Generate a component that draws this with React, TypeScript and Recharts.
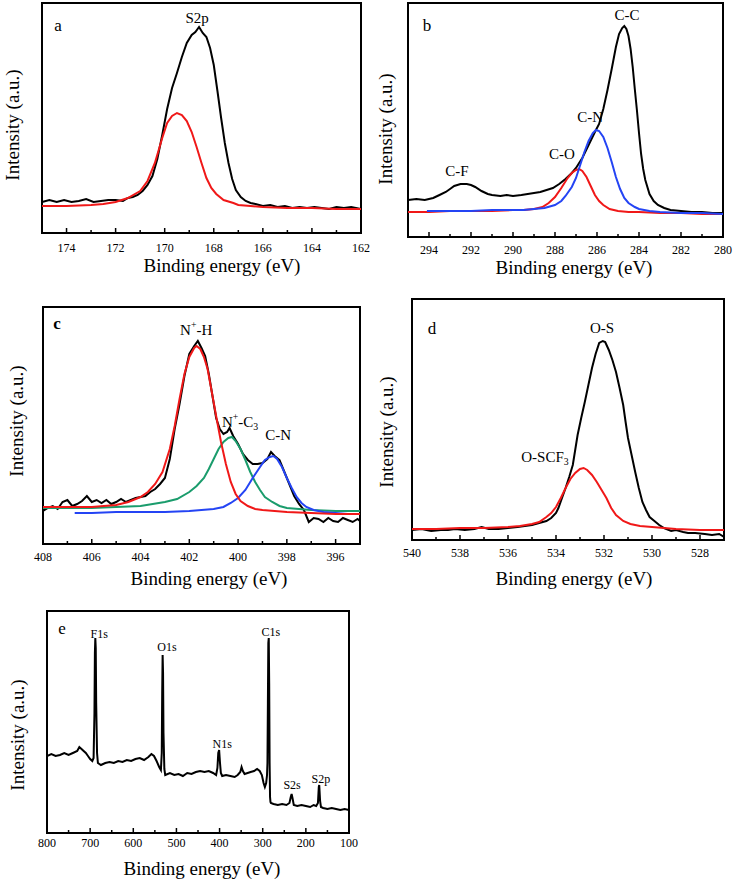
import { LineChart, Line, XAxis, YAxis, ReferenceArea, ReferenceDot } from "recharts";

const FONT = "'Liberation Serif', 'Times New Roman', serif";

// [binding energy (eV), intensity]
const s2pMeasured = [
  [175, 31], [174.7, 33], [174.4, 31], [174.1, 33], [173.8, 31], [173.5, 32], [173.2, 34], [172.9, 31],
  [172.6, 32], [172.3, 33], [172, 33], [171.7, 32], [171.5, 35], [171.3, 36], [171.1, 38], [170.9, 42],
  [170.7, 48], [170.5, 57], [170.3, 74], [170.1, 98], [169.9, 124], [169.7, 145], [169.5, 160],
  [169.3, 176], [169.1, 190], [168.9, 198], [168.75, 201], [168.6, 206], [168.45, 200], [168.3, 196],
  [168.15, 185], [168, 168], [167.85, 142], [167.7, 115], [167.55, 90], [167.4, 70], [167.25, 54],
  [167.1, 43], [166.9, 36], [166.7, 32], [166.5, 30], [166.3, 29], [166, 27], [165.7, 28], [165.4, 26],
  [165.1, 27], [164.8, 25], [164.5, 26], [164.2, 25], [163.9, 26], [163.6, 25], [163.3, 24], [163, 26],
  [162.7, 25], [162.4, 26], [162, 24],
];
const s2pFit = [
  [175, 27], [174, 27], [173, 28], [172.5, 29], [172, 31], [171.5, 35], [171, 42], [170.7, 52],
  [170.4, 70], [170.1, 95], [169.9, 110], [169.7, 117], [169.5, 120], [169.3, 118], [169.1, 112],
  [168.9, 101], [168.7, 86], [168.5, 70], [168.3, 55], [168.1, 45], [167.9, 39], [167.6, 33],
  [167.2, 30], [167, 28], [166.5, 27], [166, 26], [165, 25], [164, 25], [163, 24], [162, 24],
];

const c1sMeasured = [
  [295, 37], [294.6, 38], [294.2, 37], [293.8, 39], [293.5, 42], [293.2, 45], [293, 48], [292.8, 51],
  [292.5, 53], [292.2, 53], [292, 52], [291.8, 50], [291.5, 46], [291.2, 43], [291, 42], [290.6, 41],
  [290.3, 42], [290, 41], [289.6, 42], [289.3, 43], [289, 44], [288.7, 45], [288.4, 47], [288.1, 49],
  [287.8, 53], [287.5, 58], [287.2, 64], [287, 69], [286.7, 79], [286.4, 92], [286.1, 105],
  [285.9, 113], [285.7, 128], [285.5, 147], [285.3, 168], [285.1, 190], [284.95, 203], [284.8, 209],
  [284.7, 211], [284.6, 208], [284.5, 201], [284.4, 188], [284.3, 170], [284.2, 148], [284.1, 127],
  [284, 104], [283.9, 83], [283.8, 68], [283.7, 57], [283.5, 43], [283.3, 36], [283.1, 32],
  [282.8, 29], [282.5, 27], [282, 26], [281.5, 25], [281, 25], [280.5, 24], [280, 24],
];
const c1sCO = [
  [295, 25], [294, 25], [293, 26], [292, 26], [291, 26], [290, 27], [289.5, 27], [289, 28], [288.6, 30],
  [288.3, 34], [288, 40], [287.7, 49], [287.4, 59], [287.2, 64], [287, 67], [286.85, 68], [286.7, 66],
  [286.5, 60], [286.3, 51], [286.1, 42], [285.9, 36], [285.7, 32], [285.4, 28], [285, 26], [284.5, 25],
  [284, 25], [283, 24], [282, 24], [281, 23], [280, 23],
];
const c1sCN = [
  [294.1, 26], [293, 26], [292, 26], [291, 27], [290, 27], [289.5, 27], [289, 28], [288.5, 29],
  [288, 32], [287.7, 36], [287.5, 41], [287.2, 50], [287, 59], [286.8, 72], [286.6, 85], [286.4, 96],
  [286.2, 104], [286.05, 107], [285.9, 106], [285.7, 100], [285.5, 89], [285.3, 75], [285.1, 60],
  [284.9, 48], [284.7, 39], [284.5, 34], [284.2, 30], [284, 28], [283.5, 26], [283, 25], [282, 24],
  [281, 24], [280, 23],
];

const n1sMeasured = [
  [408, 33], [407.8, 36], [407.6, 38], [407.4, 35], [407.2, 42], [407, 44], [406.8, 38], [406.6, 40],
  [406.4, 43], [406.2, 48], [406, 42], [405.8, 44], [405.6, 41], [405.4, 44], [405.2, 40], [405, 42],
  [404.8, 45], [404.6, 42], [404.4, 44], [404.2, 46], [404, 47], [403.8, 48], [403.6, 52], [403.4, 55],
  [403.2, 60], [403, 66], [402.8, 85], [402.6, 115], [402.4, 140], [402.2, 168], [402, 190],
  [401.8, 198], [401.65, 203], [401.5, 196], [401.35, 188], [401.2, 170], [401.05, 148], [400.9, 126],
  [400.75, 115], [400.6, 110], [400.45, 112], [400.35, 116], [400.2, 108], [400, 100], [399.8, 90],
  [399.6, 84], [399.4, 80], [399.2, 80], [399, 81], [398.8, 85], [398.65, 92], [398.5, 88],
  [398.3, 84], [398.1, 72], [397.9, 60], [397.7, 48], [397.5, 40], [397.3, 34], [397.1, 22],
  [396.9, 26], [396.7, 25], [396.5, 22], [396.3, 26], [396.1, 23], [395.9, 22], [395.7, 26],
  [395.5, 24], [395.3, 22], [395.1, 25], [395, 23],
];
const n1sNH = [
  [408, 37], [407, 37], [406, 37], [405, 39], [404.5, 42], [404, 47], [403.7, 52], [403.4, 60],
  [403.1, 72], [402.8, 95], [402.6, 118], [402.4, 145], [402.2, 170], [402, 187], [401.8, 196],
  [401.7, 198], [401.55, 195], [401.4, 187], [401.25, 175], [401.1, 155], [400.9, 128], [400.7, 102],
  [400.5, 80], [400.3, 62], [400.1, 50], [399.9, 43], [399.6, 38], [399.3, 35], [399, 34], [398.5, 33],
  [398, 32], [397, 31], [396, 30], [395, 30],
];
const n1sNC3 = [
  [408, 36], [407, 36], [406, 36], [405, 37], [404, 38], [403.5, 40], [403, 42], [402.5, 45], [402, 52],
  [401.7, 58], [401.4, 66], [401.2, 75], [401, 85], [400.8, 95], [400.6, 102], [400.4, 106],
  [400.25, 107], [400.1, 103], [399.9, 95], [399.7, 84], [399.5, 72], [399.3, 62], [399.1, 54],
  [398.9, 47], [398.6, 42], [398.3, 38], [398, 36], [397.5, 35], [397, 34], [396, 33], [395, 33],
];
const n1sCN = [
  [406.7, 31], [406, 31], [405, 32], [404, 32], [403, 32], [402, 33], [401.5, 34], [401, 35],
  [400.6, 37], [400.3, 41], [400, 46], [399.7, 54], [399.4, 66], [399.1, 77], [398.9, 84], [398.7, 87],
  [398.55, 88], [398.4, 85], [398.2, 77], [398, 66], [397.8, 56], [397.6, 47], [397.4, 41],
  [397.2, 37], [396.9, 34], [396.5, 32], [396, 31], [395.5, 30], [395, 30],
];

const o1sMeasured = [
  [540, 10], [539.6, 11], [539.2, 9], [538.8, 10], [538.5, 10], [538.2, 11], [537.8, 10], [537.4, 11],
  [537.1, 13], [536.8, 11], [536.4, 11], [536, 12], [535.6, 13], [535.3, 14], [535, 15], [534.7, 17],
  [534.4, 19], [534.2, 22], [534, 27], [533.9, 32], [533.75, 42], [533.6, 52], [533.45, 63],
  [533.3, 75], [533.1, 105], [532.95, 122], [532.8, 138], [532.65, 155], [532.5, 172], [532.35, 186],
  [532.2, 197], [532.05, 199], [531.95, 198], [531.8, 190], [531.65, 180], [531.5, 168], [531.35, 152],
  [531.2, 135], [531.1, 118], [531, 102], [530.85, 85], [530.7, 68], [530.55, 52], [530.4, 38],
  [530.25, 30], [530.1, 23], [529.9, 19], [529.7, 15], [529.5, 12], [529.2, 9], [529, 10],
  [528.7, 8], [528.5, 7], [528.2, 7], [527.8, 6], [527.5, 5], [527.2, 6], [527, 3],
];
const o1sOSCF3 = [
  [540, 11], [539, 11], [538, 12], [537, 12], [536, 13], [535.5, 14], [535, 16], [534.7, 18],
  [534.4, 23], [534.2, 27], [534, 33], [533.8, 42], [533.6, 52], [533.4, 61], [533.2, 67], [533, 71],
  [532.85, 72], [532.7, 70], [532.5, 65], [532.3, 58], [532.1, 50], [531.9, 42], [531.7, 32],
  [531.5, 25], [531.2, 19], [530.9, 16], [530.5, 14], [530, 13], [529.5, 12], [529, 11], [528, 10],
  [527, 10],
];

const survey = [
  [800, 77], [790, 79], [780, 77], [770, 78], [760, 80], [750, 78], [740, 80], [730, 82], [725, 86],
  [720, 84], [715, 82], [710, 80], [705, 77], [700, 74], [695, 72], [692, 75], [690, 120], [689, 180],
  [688, 195], [687, 185], [686, 130], [684, 80], [682, 70], [675, 68], [665, 70], [655, 71], [645, 70],
  [635, 72], [625, 71], [615, 73], [605, 72], [595, 74], [585, 75], [575, 73], [565, 76], [558, 79],
  [552, 77], [546, 72], [540, 66], [536, 63], [534, 80], [533, 140], [532, 178], [531, 160],
  [530, 100], [528, 64], [526, 58], [515, 60], [505, 58], [495, 59], [485, 57], [475, 60], [465, 59],
  [455, 61], [445, 62], [435, 61], [425, 62], [415, 60], [408, 58], [405, 65], [403, 80], [401, 83],
  [399, 70], [397, 60], [394, 57], [385, 58], [375, 57], [365, 56], [358, 58], [352, 61], [349, 66],
  [346, 62], [342, 59], [335, 60], [328, 61], [320, 62], [313, 64], [307, 62], [302, 58], [298, 50],
  [295, 46], [292, 50], [290, 58], [289, 70], [288, 130], [287, 190], [286, 195], [285, 150],
  [284, 70], [283, 36], [282, 31], [281, 30], [275, 29], [265, 28], [255, 29], [245, 28], [238, 30],
  [235, 36], [233, 39], [231, 35], [228, 28], [220, 27], [210, 28], [200, 27], [190, 26], [182, 28],
  [176, 27], [172, 30], [170, 46], [169, 48], [167, 32], [165, 26], [160, 25], [150, 24], [140, 25],
  [130, 24], [120, 23], [110, 24], [100, 23],
];

// tick values
const aMajor = [174, 172, 170, 168, 166, 164, 162];
const aMinor = [175, 173, 171, 169, 167, 165, 163];
const bMajor = [294, 292, 290, 288, 286, 284, 282, 280];
const bMinor = [295, 293, 291, 289, 287, 285, 283, 281];
const cMajor = [408, 406, 404, 402, 400, 398, 396];
const cMinor = [407, 405, 403, 401, 399, 397, 395];
const dMajor = [540, 538, 536, 534, 532, 530, 528];
const dMinor = [539, 537, 535, 533, 531, 529, 527];
const eMajor = [800, 700, 600, 500, 400, 300, 200, 100];
const eMinor = [750, 650, 550, 450, 350, 250, 150];

type Part = { t: string; s?: "sub" | "sup" };
type Note = { x: number; y: number; parts: Part[]; size: number; bold?: boolean };

const aNotes: Note[] = [
  { x: 174.35, y: 208, parts: [{ t: "a" }], size: 17 },
  { x: 168.68, y: 215, parts: [{ t: "S2p" }], size: 15 },
];
const bNotes: Note[] = [
  { x: 294.1, y: 212, parts: [{ t: "b" }], size: 17 },
  { x: 284.57, y: 222, parts: [{ t: "C-C" }], size: 15 },
  { x: 286.33, y: 120, parts: [{ t: "C-N" }], size: 15 },
  { x: 287.67, y: 83, parts: [{ t: "C-O" }], size: 15 },
  { x: 292.67, y: 66, parts: [{ t: "C-F" }], size: 15 },
];
const cNotes: Note[] = [
  { x: 407.43, y: 221, parts: [{ t: "c" }], size: 17, bold: true },
  { x: 401.72, y: 214, parts: [{ t: "N" }, { t: "+", s: "sup" }, { t: "-H" }], size: 15 },
  { x: 399.92, y: 122, parts: [{ t: "N" }, { t: "+", s: "sup" }, { t: "-C" }, { t: "3", s: "sub" }], size: 15 },
  { x: 398.36, y: 109, parts: [{ t: "C-N" }], size: 15 },
];
const dNotes: Note[] = [
  { x: 539.17, y: 212, parts: [{ t: "d" }], size: 17 },
  { x: 532.08, y: 212, parts: [{ t: "O-S" }], size: 15 },
  { x: 534.46, y: 83, parts: [{ t: "O-SCF" }, { t: "3", s: "sub" }], size: 15 },
];
const eNotes: Note[] = [
  { x: 765, y: 205, parts: [{ t: "e" }], size: 17 },
  { x: 679, y: 199, parts: [{ t: "F1s" }], size: 12 },
  { x: 522, y: 186, parts: [{ t: "O1s" }], size: 12 },
  { x: 394, y: 89, parts: [{ t: "N1s" }], size: 12 },
  { x: 281, y: 201, parts: [{ t: "C1s" }], size: 12 },
  { x: 232, y: 48, parts: [{ t: "S2s" }], size: 12 },
  { x: 165, y: 54, parts: [{ t: "S2p" }], size: 12 },
];

const RED = "#f01818";
const BLUE = "#2444f4";
const GREEN = "#1a9c6c";

function NoteLabel({ viewBox, note }: any) {
  const cx = viewBox.x + viewBox.width / 2;
  const cy = viewBox.y + viewBox.height / 2;
  let shift = 0;
  return (
    <text x={cx} y={cy} textAnchor="middle" dominantBaseline="central" fontSize={note.size}
      fontWeight={note.bold ? "bold" : "normal"} fill="#000" fontFamily={FONT}>
      {note.parts.map((p: Part, i: number) => {
        const target = p.s === "sup" ? -6 : p.s === "sub" ? 4 : 0;
        const dy = target - shift;
        shift = target;
        return (
          <tspan key={i} dy={dy} fontSize={p.s ? note.size * 0.65 : note.size}>{p.t}</tspan>
        );
      })}
    </text>
  );
}

function AxisTick({ x, y, payload, majors, gap }: any) {
  const major = majors.includes(payload.value);
  return (
    <g>
      <line x1={x} x2={x} y1={y} y2={y - (major ? 5 : 3)} stroke="#000" strokeWidth={1.5} />
      {major && (
        <text x={x} y={y + gap} textAnchor="middle" fontSize={12} fill="#000" fontFamily={FONT}>
          {payload.value}
        </text>
      )}
    </g>
  );
}

type PanelProps = {
  region: number[];
  box: number[];
  domain: number[];
  yMax: number;
  majors: number[];
  minors: number[];
  gap: number;
  series: { data: number[][]; color: string }[];
  notes: Note[];
  xTitle: number[];
  yTitle: number[];
};

function Panel(p: PanelProps) {
  const [x0, y0, x1, y1] = p.region;
  const [l, t, r, b] = p.box;
  const tx = p.xTitle[0] - x0;
  const ty = p.xTitle[1] - y0;
  const yx = p.yTitle[0] - x0;
  const yy = p.yTitle[1] - y0;
  return (
    <div style={{ position: "absolute", left: x0, top: y0 }}>
      <LineChart width={x1 - x0} height={y1 - y0}
        margin={{ top: t - y0, left: l - x0, right: x1 - r, bottom: 0 }}>
        <XAxis type="number" dataKey="x" domain={p.domain} reversed allowDataOverflow
          ticks={[...p.majors, ...p.minors]} interval={0} height={y1 - b}
          axisLine={false} tickLine={false} tickSize={0} tickMargin={0}
          tick={<AxisTick majors={p.majors} gap={p.gap} />} />
        <YAxis type="number" domain={[0, p.yMax]} hide width={0} allowDataOverflow />
        <ReferenceArea x1={p.domain[0]} x2={p.domain[1]} y1={0} y2={p.yMax}
          fill="none" fillOpacity={0} stroke="#000" strokeWidth={2} />
        {p.series.map((s, i) => (
          <Line key={i} data={s.data.map(([x, y]) => ({ x, y }))} dataKey="y" type="linear"
            stroke={s.color} strokeWidth={2} dot={false} activeDot={false} isAnimationActive={false} />
        ))}
        {p.notes.map((n, i) => (
          <ReferenceDot key={"n" + i} x={n.x} y={n.y} r={1} fill="none" stroke="none"
            label={<NoteLabel note={n} />} />
        ))}
        <text x={tx} y={ty} textAnchor="middle" fontSize={19} fill="#000" fontFamily={FONT}>
          Binding energy (eV)
        </text>
        <text x={yx} y={yy} textAnchor="middle" dominantBaseline="central" fontSize={19} fill="#000"
          fontFamily={FONT} transform={`rotate(-90 ${yx} ${yy})`}>
          Intensity (a.u.)
        </text>
      </LineChart>
    </div>
  );
}

export default function App() {
  return (
    <div style={{ position: "absolute", left: 0, top: 0, width: 733, height: 885, background: "#fff", fontFamily: FONT }}>
      <Panel region={[0, 0, 378, 285]} box={[42, 3, 361, 233]} domain={[162, 175]} yMax={230}
        majors={aMajor} minors={aMinor} gap={19}
        series={[{ data: s2pMeasured, color: "#000" }, { data: s2pFit, color: RED }]}
        notes={aNotes} xTitle={[222, 272]} yTitle={[12, 125]} />
      <Panel region={[372, 0, 733, 288]} box={[408, 3, 723, 237]} domain={[280, 295]} yMax={234}
        majors={bMajor} minors={bMinor} gap={17}
        series={[{ data: c1sMeasured, color: "#000" }, { data: c1sCO, color: RED }, { data: c1sCN, color: BLUE }]}
        notes={bNotes} xTitle={[574, 274]} yTitle={[385, 129]} />
      <Panel region={[0, 296, 374, 596]} box={[43, 307, 360, 544]} domain={[395, 408]} yMax={237}
        majors={cMajor} minors={cMinor} gap={17}
        series={[{ data: n1sMeasured, color: "#000" }, { data: n1sNC3, color: GREEN }, { data: n1sCN, color: BLUE }, { data: n1sNH, color: RED }]}
        notes={cNotes} xTitle={[209, 585]} yTitle={[16, 421]} />
      <Panel region={[374, 292, 733, 596]} box={[412, 299, 724, 540]} domain={[527, 540]} yMax={241}
        majors={dMajor} minors={dMinor} gap={17}
        series={[{ data: o1sMeasured, color: "#000" }, { data: o1sOSCF3, color: RED }]}
        notes={dNotes} xTitle={[574, 585]} yTitle={[386, 432]} />
      <Panel region={[0, 600, 368, 885]} box={[47, 611, 349, 833]} domain={[100, 800]} yMax={222}
        majors={eMajor} minors={eMinor} gap={14}
        series={[{ data: survey, color: "#000" }]}
        notes={eNotes} xTitle={[202, 875]} yTitle={[17, 735]} />
    </div>
  );
}
